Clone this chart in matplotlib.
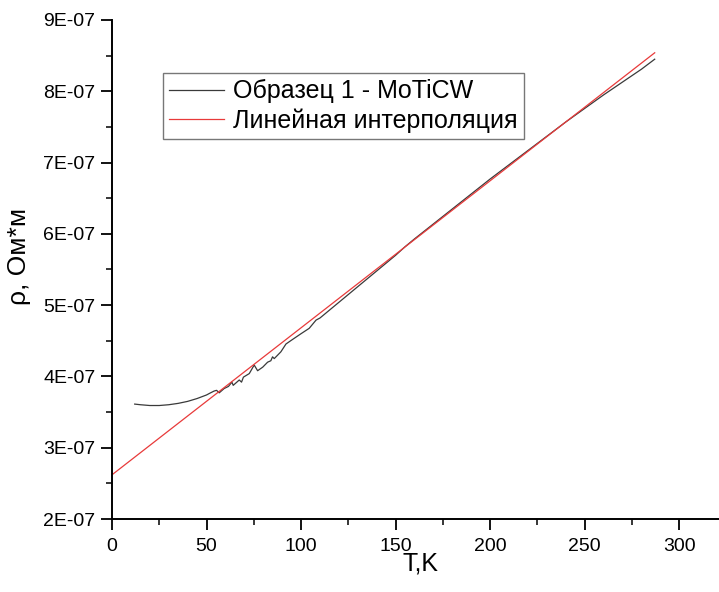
import numpy as np
import matplotlib.pyplot as plt
from matplotlib.ticker import MultipleLocator, FuncFormatter

plt.rcParams['font.family'] = ['Liberation Sans', 'DejaVu Sans']

# === DATA ===
# Образец 1 - MoTiCW : T (K), rho (Ohm*m)
T_meas = [12, 15, 20, 25, 30, 35, 40, 45, 50, 51.4, 54.0, 55.3, 56.7, 59.3, 61.6,
          63.4, 64.1, 67.3, 68.5, 69.5, 72.6, 75.2, 77.0, 79.7, 82.3, 84.0, 84.9,
          85.8, 89.3, 92.0, 95, 100, 104.3, 107.9, 110, 115, 120, 125, 130, 135,
          140, 145, 150, 155, 160, 170, 180, 190, 200, 210, 220, 230, 240, 250,
          260, 270, 280, 287]
rho_meas = [3.612, 3.603, 3.592, 3.592, 3.603, 3.622, 3.650, 3.690, 3.740, 3.760,
            3.795, 3.805, 3.770, 3.830, 3.860, 3.920, 3.875, 3.950, 3.920, 3.990,
            4.040, 4.160, 4.080, 4.130, 4.200, 4.220, 4.275, 4.250, 4.345, 4.455,
            4.510, 4.600, 4.675, 4.790, 4.820, 4.930, 5.040, 5.150, 5.260, 5.370,
            5.480, 5.590, 5.700, 5.820, 5.930, 6.140, 6.350, 6.560, 6.770, 6.970,
            7.170, 7.370, 7.570, 7.760, 7.950, 8.130, 8.310, 8.450]
rho_meas = np.array(rho_meas) * 1e-7

# Линейная интерполяция
T_fit = [0, 287]
rho_fit = np.array([2.62, 8.54]) * 1e-7

# === PLOT ===
fig = plt.figure(figsize=(7.19, 5.92), dpi=100)
ax = fig.add_axes([112 / 719, 1 - 519 / 592, 1 - 112 / 719, (519 - 20) / 592])

ax.plot(T_meas, rho_meas, color='#3a3a3a', lw=0.9, label='Образец 1 - MoTiCW')
ax.plot(T_fit, rho_fit, color='#e83a3a', lw=0.9, label='Линейная интерполяция')

ax.set_xlim(0, 321)
ax.set_ylim(2e-7, 9e-7)
ax.xaxis.set_major_locator(MultipleLocator(50))
ax.xaxis.set_minor_locator(MultipleLocator(25))
ax.yaxis.set_major_locator(MultipleLocator(1e-7))
ax.yaxis.set_minor_locator(MultipleLocator(0.5e-7))
ax.yaxis.set_major_formatter(FuncFormatter(lambda v, p: f"{v:.0E}"))

for side in ['top', 'right']:
    ax.spines[side].set_visible(False)
for side in ['left', 'bottom']:
    ax.spines[side].set_linewidth(1.4)

ax.tick_params(which='major', direction='out', length=8, width=1.3,
               labelsize=14, pad=4)
ax.tick_params(axis='x', which='major', pad=6)
ax.tick_params(which='minor', direction='out', length=4.5, width=1.1)

ax.set_xlabel('T,K', fontsize=18)
ax.set_ylabel('ρ, Ом*м', fontsize=19)
ax.xaxis.set_label_coords(0.509, -0.066)
ax.yaxis.set_label_coords(-0.133, 0.527)

leg = ax.legend(loc='upper left', bbox_to_anchor=(163 / 719, 1 - 73 / 592),
                bbox_transform=fig.transFigure, fontsize=18, frameon=True,
                fancybox=False, borderaxespad=0, borderpad=0.25,
                handlelength=2.2, handletextpad=0.35, labelspacing=0.2)
leg.get_frame().set_edgecolor('#555555')
leg.get_frame().set_linewidth(1.0)

fig.savefig('out.png', dpi=100)
